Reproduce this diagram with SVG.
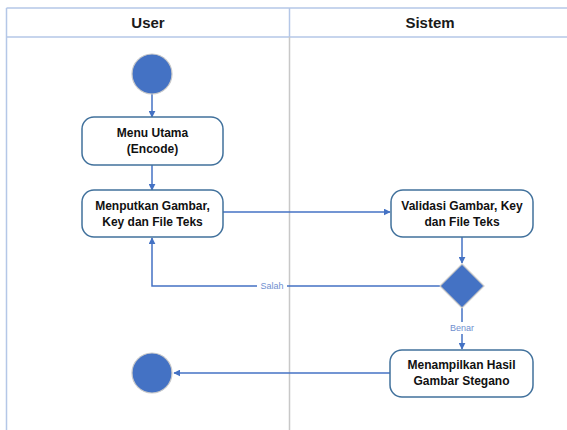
<svg xmlns="http://www.w3.org/2000/svg" width="567" height="430" viewBox="0 0 567 430">
  <defs>
    <marker id="arrow" viewBox="0 0 10 10" refX="9" refY="5" markerWidth="7" markerHeight="7" markerUnits="userSpaceOnUse" orient="auto">
      <path d="M0,0 L10,5 L0,10 z" fill="#4472C4"/>
    </marker>
  </defs>
  <style>
    .lane { fill: none; stroke: #B4C7E7; stroke-width: 1.5; }
    .divider { stroke: #C8C8C8; stroke-width: 1.5; }
    .head { font-family: "Liberation Sans", Arial, sans-serif; font-weight: bold; font-size: 15px; fill: #1a1a1a; text-anchor: middle; }
    .box { fill: #ffffff; stroke: #41719C; stroke-width: 1.5; }
    .label { font-family: "Liberation Sans", Arial, sans-serif; font-weight: bold; font-size: 12px; fill: #111111; text-anchor: middle; }
    .dot { fill: #4472C4; stroke: #C9C9C9; stroke-width: 1.2; }
    .edge { fill: none; stroke: #4472C4; stroke-width: 1.5; }
    .guard { font-family: "Liberation Sans", Arial, sans-serif; font-size: 9px; fill: #6F8FCF; text-anchor: middle; }
  </style>

  <!-- swimlane frame -->
  <g id="swimlanes">
    <rect x="0" y="0" width="567" height="430" fill="#ffffff"/>
    <line class="lane" x1="6.5" y1="8" x2="567" y2="8"/>
    <line class="lane" x1="6.5" y1="37" x2="567" y2="37"/>
    <line class="lane" x1="6.5" y1="8" x2="6.5" y2="430"/>
    <line class="lane" x1="289.5" y1="8" x2="289.5" y2="37"/>
    <line class="divider" x1="289.5" y1="37" x2="289.5" y2="430"/>
    <text class="head" x="148" y="28">User</text>
    <text class="head" x="430" y="28">Sistem</text>
  </g>

  <!-- connectors -->
  <g id="connectors">
    <line class="edge" x1="152" y1="94" x2="152" y2="117" marker-end="url(#arrow)"/>
    <line class="edge" x1="152" y1="165" x2="152" y2="190" marker-end="url(#arrow)"/>
    <line class="edge" x1="223" y1="212" x2="390" y2="212" marker-end="url(#arrow)"/>
    <line class="edge" x1="462" y1="237" x2="462" y2="263" marker-end="url(#arrow)"/>
    <polyline class="edge" points="440,286 152,286 152,238" marker-end="url(#arrow)"/>
    <line class="edge" x1="462" y1="307" x2="462" y2="349" marker-end="url(#arrow)"/>
    <line class="edge" x1="390" y1="373" x2="174" y2="373" marker-end="url(#arrow)"/>
    <rect x="257" y="280" width="30" height="12" fill="#ffffff"/>
    <text class="guard" x="272" y="289">Salah</text>
    <rect x="447" y="322" width="30" height="12" fill="#ffffff"/>
    <text class="guard" x="462" y="331">Benar</text>
  </g>

  <g id="start">
    <circle class="dot" cx="152" cy="74" r="20"/>
  </g>

  <g id="menu-utama">
    <rect class="box" x="82" y="117" width="141" height="48" rx="12"/>
    <text class="label" x="152.5" y="137">Menu Utama</text>
    <text class="label" x="152.5" y="153">(Encode)</text>
  </g>

  <g id="input-data">
    <rect class="box" x="82" y="190" width="141" height="47" rx="12"/>
    <text class="label" x="152.5" y="210">Menputkan Gambar,</text>
    <text class="label" x="152.5" y="226">Key dan File Teks</text>
  </g>

  <g id="validasi">
    <rect class="box" x="391" y="190" width="142" height="47" rx="12"/>
    <text class="label" x="462" y="210">Validasi Gambar, Key</text>
    <text class="label" x="462" y="226">dan File Teks</text>
  </g>

  <g id="decision">
    <polygon class="dot" points="462,264 484,286 462,308 440,286"/>
  </g>

  <g id="hasil">
    <rect class="box" x="390" y="350" width="143" height="47" rx="12"/>
    <text class="label" x="461.5" y="369">Menampilkan Hasil</text>
    <text class="label" x="461.5" y="385">Gambar Stegano</text>
  </g>

  <g id="end">
    <circle class="dot" cx="152" cy="373" r="20"/>
  </g>
</svg>
